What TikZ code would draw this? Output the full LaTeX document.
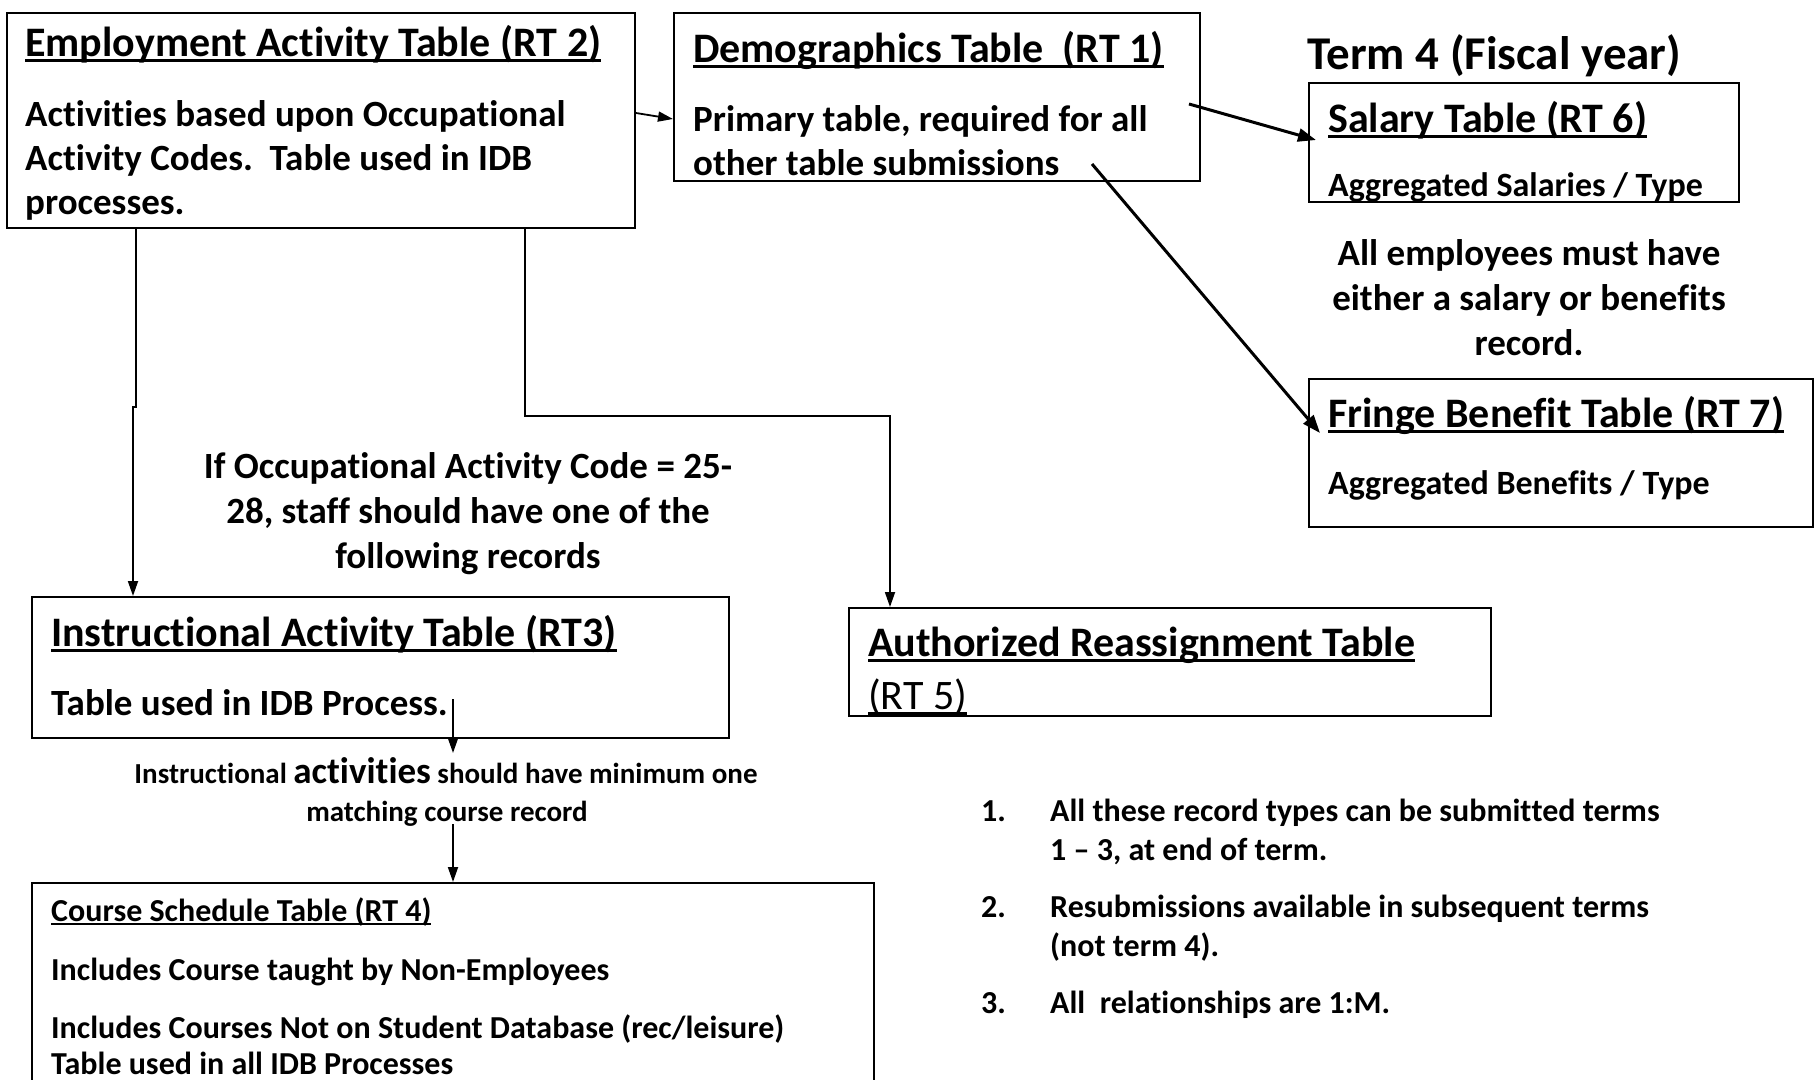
\documentclass[tikz,border=0pt]{standalone}
\usepackage{fontspec}
\setmainfont{Carlito}[Ligatures={NoCommon,NoRequired,NoContextual,NoRare}, Contextuals={NoAlternate}]
\usetikzlibrary{arrows.meta}
\newsavebox\ulbox
\newcommand\myul[1]{\sbox\ulbox{#1}\rlap{\rule[-0.14em]{\wd\ulbox}{0.065em}}\usebox\ulbox}
\newcommand\brk{\kern0pt }
\newcommand\fT{\fontsize{42}{50}\selectfont}
\newcommand\fB{\fontsize{37}{44}\selectfont}
\newcommand\fM{\fontsize{34}{40}\selectfont}
\newcommand\fS{\fontsize{32}{38}\selectfont}
\newcommand\fX{\fontsize{29}{35}\selectfont}
\newcommand\fH{\fontsize{47}{56}\selectfont}
\begin{document}
\begin{tikzpicture}[x=1pt,y=-1pt,
  box/.style={draw, line width=1.8pt, inner sep=0pt, anchor=north west},
  txt/.style={inner sep=0pt, anchor=base west, font=\bfseries},
  ctxt/.style={inner sep=0pt, anchor=base, font=\bfseries},
  arr/.style={line width=1.8pt, -{Triangle[length=15pt,width=10pt]}},
  darr/.style={line width=3pt, -{Triangle[length=18pt,width=13pt]}}]
\useasboundingbox (0,0) rectangle (1814,1079);
% boxes
\node[box, minimum width=628pt, minimum height=215pt] (emp) at (6,12) {};
\node[box, minimum width=526pt, minimum height=168pt] (demo) at (673,12) {};
\node[box, minimum width=430pt, minimum height=119pt] (sal) at (1308,82) {};
\node[box, minimum width=504pt, minimum height=148pt] (fri) at (1308,378) {};
\node[box, minimum width=642pt, minimum height=108pt] (auth) at (848,607) {};
\node[box, minimum width=697pt, minimum height=141pt] (instr) at (31,596) {};
\node[box, minimum width=842pt, minimum height=240pt] (course) at (31,882) {};
% employment
\node[txt] (empT) at (25,56) {\fT\myul{Employment Activ\brk ity Table (RT 2)}};
\node[txt] (empB1) at (25,126) {\fB Act\brk iv\brk it\brk ies based upon Occupat\brk ional};
\node[txt] (empB2) at (25,170) {\fB Act\brk ivity Codes.\ \ Table used in IDB};
\node[txt] (empB3) at (25,214) {\fB processes.};
% demographics
\node[txt] (demoT) at (693,62) {\fT\myul{Demographics Table\ \ (RT 1)}};
\node[txt] (demoB1) at (693,131) {\fB Primary table, required for all};
\node[txt] (demoB2) at (693,175) {\fB other table submissions};
% term 4
\node[txt] (term) at (1307,69) {\fH Term 4 (Fiscal year)};
\node[txt] (salT) at (1328,132) {\fT\myul{Salary Table (RT 6)}};
\node[txt] (salB) at (1328,196) {\fM Aggregated Salaries / Type};
\node[ctxt] (ae1) at (1529,265) {\fB All employees must have};
\node[ctxt] (ae2) at (1529,310) {\fB either a salary or bene\brk f\brk its};
\node[ctxt] (ae3) at (1529,355) {\fB record.};
\node[txt] (friT) at (1328,427) {\fT\myul{Fringe Bene\brk f\brk it Table (RT 7)}};
\node[txt] (friB) at (1328,494) {\fM Aggregated Bene\brk f\brk its / Type};
% condition
\node[ctxt] (c1) at (468,478) {\fB If Occupat\brk ional Act\brk ivity Code = 25-};
\node[ctxt] (c2) at (468,523) {\fB 28, staf\brk f should have one of the};
\node[ctxt] (c3) at (468,568) {\fB following records};
% instructional
\node[txt] (instrT) at (51,646) {\fT\myul{Instruct\brk ional Act\brk ivity Table (RT3)}};
\node[txt] (instrB) at (51,715) {\fB Table used in IDB Process.};
\node[ctxt] (in1) at (446,783) {\fX Instruct\brk ional {\fB act\brk ivit\brk ies} should have minimum one};
\node[ctxt] (in2) at (447,821) {\fX matching course record};
% authorized
\node[txt] (authT) at (868,656) {\fT\myul{Authorized Reassignment Table}};
\node[txt, font=\mdseries] (authB) at (868,709) {\fT\myul{(RT 5)}};
% course
\node[txt] (courseT) at (51,921) {\fS\myul{Course Schedule Table (RT 4)}};
\node[txt] (courseB1) at (51,980) {\fS Includes Course taught by Non-Employees};
\node[txt] (courseB2) at (51,1038) {\fS Includes Courses Not on Student Database (rec/leisure)};
\node[txt] (courseB3) at (51,1074) {\fS Table used in all IDB Processes};
% notes
\node[txt] (n1) at (981,821) {\fS 1.};
\node[txt] (t1) at (1050,821) {\fS All these record types can be submit\brk ted terms};
\node[txt] (t1b) at (1050,860) {\fS 1 – 3, at end of term.};
\node[txt] (n2) at (981,917) {\fS 2.};
\node[txt] (t2) at (1050,917) {\fS Resubmissions available in subsequent terms};
\node[txt] (t2b) at (1050,956) {\fS (not term 4).};
\node[txt] (n3) at (981,1013) {\fS 3.};
\node[txt] (t3) at (1050,1013) {\fS All\ \ relat\brk ionships are 1:M.};
% connector points
\coordinate (e2d) at (636,113);
\coordinate (d2eIn) at (673,119);
\coordinate (d2s) at (1189,104);
\coordinate (s2In) at (1316,140);
\coordinate (d2f) at (1092,164);
\coordinate (f2In) at (1320,433);
\coordinate (L1) at (136,227);
\coordinate (L2) at (136,407);
\coordinate (L3) at (133,407);
\coordinate (L4) at (133,596);
\coordinate (R1) at (525,227);
\coordinate (R2) at (525,416);
\coordinate (R3) at (890,416);
\coordinate (R4) at (890,607);
\coordinate (I1) at (453,699);
\coordinate (I2) at (453,753);
\coordinate (I3) at (453,824);
\coordinate (I4) at (453,882);
% connectors
\draw[arr] (e2d) -- (d2eIn);
\draw[darr] (d2s) -- (s2In);
\draw[darr] (d2f) -- (f2In);
\draw[arr] (L1) -- (L2) -- (L3) -- (L4);
\draw[arr] (R1) -- (R2) -- (R3) -- (R4);
\draw[arr] (I1) -- (I2);
\draw[arr] (I3) -- (I4);
\end{tikzpicture}
\end{document}
